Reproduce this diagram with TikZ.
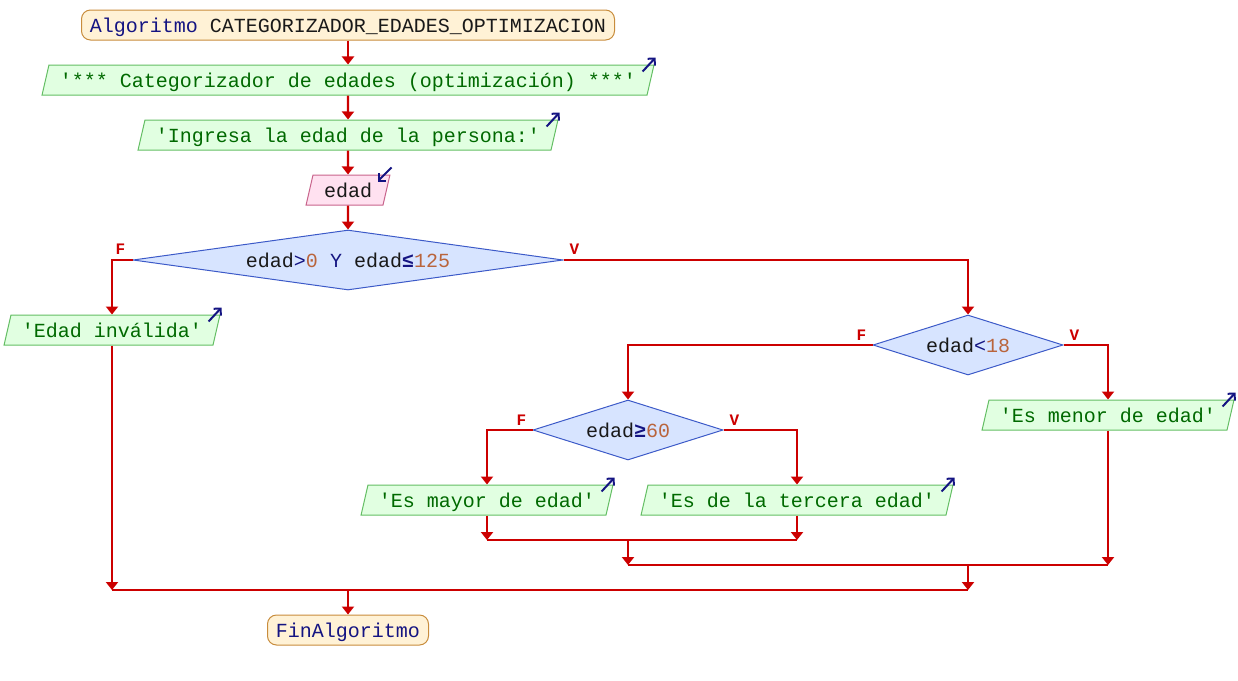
\documentclass[tikz,border=0pt]{standalone}
\usepackage{fontspec}
\setmonofont{Liberation Mono}
\usetikzlibrary{shapes.geometric,arrows.meta}
\definecolor{flowred}{RGB}{204,0,0}
\definecolor{navyc}{RGB}{20,20,130}
\definecolor{termf}{RGB}{255,242,214}
\definecolor{termb}{RGB}{200,140,60}
\definecolor{outf}{RGB}{225,255,225}
\definecolor{outb}{RGB}{100,190,100}
\definecolor{outt}{RGB}{0,105,0}
\definecolor{inpf}{RGB}{255,225,240}
\definecolor{inpb}{RGB}{200,100,140}
\definecolor{decf}{RGB}{215,228,255}
\definecolor{decb}{RGB}{60,90,200}
\definecolor{numc}{RGB}{185,100,60}
\definecolor{txtc}{RGB}{25,25,25}
\begin{document}
\begin{tikzpicture}[x=1pt,y=-1pt,
  base/.style={font=\ttfamily\fontsize{20}{24}\selectfont, inner sep=0pt, text height=17pt, text depth=2pt},
  term/.style={base, draw=termb, fill=termf, rounded corners=9pt, minimum height=30pt, line width=1pt, text=navyc},
  io/.style={base, trapezium, trapezium left angle=70, trapezium right angle=110, trapezium stretches=true, minimum height=30pt, inner xsep=11pt, inner ysep=0pt, line width=1pt},
  outbox/.style={io, draw=outb, fill=outf, text=outt},
  inbox/.style={io, draw=inpb, fill=inpf, text=txtc},
  dec/.style={base, diamond, draw=decb, fill=decf, line width=1pt, text=txtc},
  flow/.style={draw=flowred, line width=2.2pt, -{Triangle[width=12pt,length=8pt]}},
  flowline/.style={draw=flowred, line width=2.2pt},
  lbl/.style={text=flowred, font=\ttfamily\bfseries\fontsize{16}{16}\selectfont, inner sep=0pt},
  icon/.style={draw=navyc, line width=2pt, -{Straight Barb[length=5pt,width=10pt]}}
]
\useasboundingbox (0,0) rectangle (1238,680);

% nodes
\node[term, minimum width=533pt] (t1) at (348,25) {Algoritmo \textcolor{txtc}{CATEGORIZADOR\_EDADES\_OPTIMIZACION}};
\node[outbox] (o1) at (348,80) {'*** Categorizador de edades (optimización) ***'};
\node[outbox] (o2) at (348,135) {'Ingresa la edad de la persona:'};
\node[inbox] (i1) at (348,190) {edad};
\node[dec, minimum width=430pt, minimum height=60pt, shape aspect=7] (d1) at (348,260)
  {edad\textcolor{navyc}{>}\textcolor{numc}{0} \textcolor{navyc}{Y} edad\textcolor{navyc}{\bfseries ≤}\textcolor{numc}{125}};
\node[outbox] (oinv) at (112,330) {'Edad inválida'};
\node[dec, minimum width=190pt, minimum height=60pt, shape aspect=3] (d2) at (968,345)
  {edad\textcolor{navyc}{<}\textcolor{numc}{18}};
\node[outbox] (omen) at (1108,415) {'Es menor de edad'};
\node[dec, minimum width=190pt, minimum height=60pt, shape aspect=3] (d3) at (628,430)
  {edad\textcolor{navyc}{\bfseries ≥}\textcolor{numc}{60}};
\node[outbox] (omay) at (487,500) {'Es mayor de edad'};
\node[outbox] (oter) at (797,500) {'Es de la tercera edad'};
\node[term, minimum width=161pt] (tf) at (348,630) {FinAlgoritmo};

\coordinate (m1) at (628,540);
\coordinate (m2) at (968,565);
\coordinate (m3) at (348,590);

% labels
\node[lbl] (f1) at ([shift={(-12,-11)}]d1.west) {F};
\node[lbl] (v1) at ([shift={(11,-11)}]d1.east) {V};
\node[lbl] (f2) at ([shift={(-11,-10)}]d2.west) {F};
\node[lbl] (v2) at ([shift={(11,-10)}]d2.east) {V};
\node[lbl] (f3) at ([shift={(-11,-10)}]d3.west) {F};
\node[lbl] (v3) at ([shift={(11,-10)}]d3.east) {V};

% icons
\foreach \n in {o1,o2,oinv,omen,omay,oter}
  \draw[icon] ([shift={(-12,7)}]\n.top right corner) -- ([shift={(1,-7)}]\n.top right corner);
\draw[icon] ([shift={(1,-7)}]i1.top right corner) -- ([shift={(-13,7)}]i1.top right corner);

% connectors
\draw[flow] (t1) -- (o1);
\draw[flow] (o1) -- (o2);
\draw[flow] (o2) -- (i1);
\draw[flow] (i1) -- (d1);
\draw[flow] (d1.west) -| (oinv);
\draw[flow] (d1.east) -| (d2);
\draw[flow] (d2.west) -| (d3);
\draw[flow] (d2.east) -| (omen);
\draw[flow] (d3.west) -| (omay);
\draw[flow] (d3.east) -| (oter);

\draw[flow] (omay) -- (omay |- m1);
\draw[flow] (oter) -- (oter |- m1);
\draw[flowline] (omay |- m1) -- (oter |- m1);
\draw[flow] (m1) -- (m1 |- m2);
\draw[flow] (omen) -- (omen |- m2);
\draw[flowline] (m1 |- m2) -- (omen |- m2);
\draw[flow] (m2) -- (m2 |- m3);
\draw[flow] (oinv) -- (oinv |- m3);
\draw[flowline] (oinv |- m3) -- (m2 |- m3);
\draw[flow] (m3) -- (tf);
\end{tikzpicture}
\end{document}
